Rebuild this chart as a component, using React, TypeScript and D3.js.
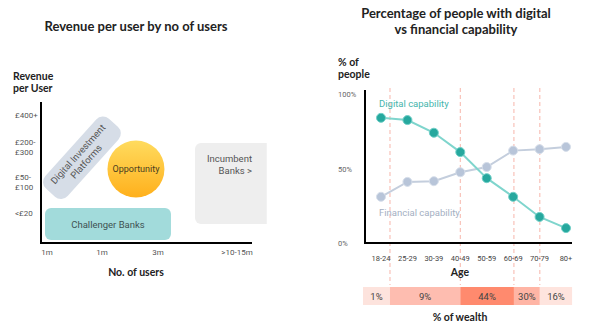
import React from "react";
import * as d3 from "d3";

// ---------- Left chart data (conceptual positions: users level 0-100, revenue level 0-100)
const userTickLabels = ["1m", "1m", "3m", ">10-15m"];
const userTickValues = [2.8, 28.9, 55.5, 92.9];
const revenueTickLabels = [["£400+"], ["£200-", "£300"], ["£50-", "£100"], ["<£20"]];
const revenueTickValues = [91, 68, 43, 21.3];

const challenger = { label: "Challenger Banks", x0: 1.9, x1: 61.6, y0: 2.1, y1: 24.8 };
const incumbent = { label: ["Incumbent", "Banks >"], x0: 73, x1: 112, y0: 13.5, y1: 70.9 };
const opportunity = { label: "Opportunity", x: 45, y: 52.5 };
const digitalPlatforms = { label: ["Digital Investment", "Platforms"], x: 19.4, y: 60.5 };

// ---------- Right chart data
const ages = ["18-24", "25-29", "30-39", "40-49", "50-59", "60-69", "70-79", "80+"];
const digital = [84, 82.5, 74, 61, 43.5, 31, 17.5, 10];
const financial = [31, 41, 41.5, 47.5, 51, 62, 63, 64.5];
const pctTicks = [0, 50, 100];
const wealthLabels = ["1%", "9%", "44%", "30%", "16%"];
const wealthBounds = [-0.68, 0.34, 3, 5.03, 6.01, 7.23]; // in age-index units
const wealthColors = ["#FDE3DD", "#FEBDB0", "#FF8A6E", "#FFB5A5", "#FEE4DE"];

const TITLE_FONT = "Lato, 'Open Sans', sans-serif";
const BODY_FONT = "Roboto, 'Noto Sans', sans-serif";

export default function App() {
  // Left scales
  const lx = d3.scaleLinear().domain([0, 100]).range([41, 252]);
  const ly = d3.scaleLinear().domain([0, 100]).range([243, 102]);

  // Right scales
  const rx = d3.scalePoint<string>().domain(ages).range([381, 566]);
  const rIdx = d3.scaleLinear().domain([0, ages.length - 1]).range([381, 566]);
  const ry = d3.scaleLinear().domain([0, 100]).range([243, 94]);

  const line = d3
    .line<number>()
    .x((_, i) => rx(ages[i]) as number)
    .y((d) => ry(d));

  const dipW = 94;
  const dipH = 30;
  const dipAngle = -48;

  return (
    <svg
      width={600}
      height={330}
      style={{ position: "absolute", left: 0, top: 0, background: "#fff" }}
    >
      <defs>
        <linearGradient id="oppGrad" x1="0" y1="0" x2="0" y2="1">
          <stop offset="0%" stopColor="#FFDB5E" />
          <stop offset="100%" stopColor="#FFB01C" />
        </linearGradient>
        <clipPath id="leftClip">
          <rect x={0} y={0} width={lx(107)} height={330} />
        </clipPath>
      </defs>

      {/* ================= LEFT CHART ================= */}
      <text
        x={136}
        y={31}
        textAnchor="middle"
        fontFamily={TITLE_FONT}
        fontWeight={700}
        fontSize={13}
        fill="#222"
      >
        Revenue per user by no of users
      </text>
      <text x={13} y={80} fontFamily={TITLE_FONT} fontWeight={700} fontSize={10.5} fill="#222">
        Revenue
      </text>
      <text x={13} y={92} fontFamily={TITLE_FONT} fontWeight={700} fontSize={10.5} fill="#222">
        per User
      </text>

      {/* y tick labels */}
      {revenueTickLabels.map((lines, i) => {
        const cy = ly(revenueTickValues[i]);
        const off = ((lines.length - 1) * 10) / 2;
        return (
          <text key={i} fontFamily={BODY_FONT} fontSize={8} fill="#555">
            {lines.map((l, j) => (
              <tspan key={j} x={15} y={cy - off + j * 10 + 3}>
                {l}
              </tspan>
            ))}
          </text>
        );
      })}

      {/* Incumbent banks */}
      <g clipPath="url(#leftClip)">
        <rect
          x={lx(incumbent.x0)}
          y={ly(incumbent.y1)}
          width={lx(incumbent.x1) - lx(incumbent.x0)}
          height={ly(incumbent.y0) - ly(incumbent.y1)}
          rx={6}
          fill="#EEEEEE"
        />
      </g>
      {incumbent.label.map((l, j) => (
        <text
          key={j}
          x={252}
          y={ly(incumbent.y1) + 19 + j * 12}
          textAnchor="end"
          fontFamily={BODY_FONT}
          fontSize={9.5}
          fill="#555"
        >
          {l}
        </text>
      ))}

      {/* Challenger Banks */}
      <rect
        x={lx(challenger.x0)}
        y={ly(challenger.y1)}
        width={lx(challenger.x1) - lx(challenger.x0)}
        height={ly(challenger.y0) - ly(challenger.y1)}
        rx={6}
        fill="#A2DBDB"
      />
      <text
        x={(lx(challenger.x0) + lx(challenger.x1)) / 2}
        y={(ly(challenger.y0) + ly(challenger.y1)) / 2 + 3.5}
        textAnchor="middle"
        fontFamily={BODY_FONT}
        fontSize={9.5}
        fill="#3E5252"
      >
        {challenger.label}
      </text>

      {/* Digital investment platforms */}
      <g transform={`translate(${lx(digitalPlatforms.x)},${ly(digitalPlatforms.y)}) rotate(${dipAngle})`}>
        <rect x={-dipW / 2} y={-dipH / 2} width={dipW} height={dipH} rx={9} fill="#D6DDE7" />
        {digitalPlatforms.label.map((l, j) => (
          <text
            key={j}
            x={0}
            y={-2 + j * 11}
            textAnchor="middle"
            fontFamily={BODY_FONT}
            fontSize={9.5}
            fill="#555"
          >
            {l}
          </text>
        ))}
      </g>

      {/* Opportunity */}
      <circle cx={lx(opportunity.x)} cy={ly(opportunity.y)} r={28.5} fill="url(#oppGrad)" />
      <text
        x={lx(opportunity.x)}
        y={ly(opportunity.y) + 3}
        textAnchor="middle"
        fontFamily={BODY_FONT}
        fontSize={9}
        fill="#4A4020"
      >
        {opportunity.label}
      </text>

      {/* axes */}
      <line x1={41} x2={41} y1={102} y2={244} stroke="#000" strokeWidth={2} />
      <line x1={40} x2={252} y1={243} y2={243} stroke="#000" strokeWidth={2} />

      {userTickLabels.map((l, i) => (
        <text
          key={i}
          x={lx(userTickValues[i])}
          y={255}
          textAnchor="middle"
          fontFamily={BODY_FONT}
          fontSize={8}
          fill="#555"
        >
          {l}
        </text>
      ))}
      <text
        x={136}
        y={276}
        textAnchor="middle"
        fontFamily={TITLE_FONT}
        fontWeight={700}
        fontSize={10.5}
        fill="#222"
      >
        No. of users
      </text>

      {/* ================= RIGHT CHART ================= */}
      <text x={456} y={18} textAnchor="middle" fontFamily={TITLE_FONT} fontWeight={700} fontSize={13} fill="#222">
        Percentage of people with digital
      </text>
      <text x={456} y={34} textAnchor="middle" fontFamily={TITLE_FONT} fontWeight={700} fontSize={13} fill="#222">
        vs financial capability
      </text>
      <text x={338} y={66} fontFamily={TITLE_FONT} fontWeight={700} fontSize={10.5} fill="#222">
        % of
      </text>
      <text x={338} y={78} fontFamily={TITLE_FONT} fontWeight={700} fontSize={10.5} fill="#222">
        people
      </text>

      {pctTicks.map((t) => (
        <text key={t} x={338} y={ry(t) + 3} fontFamily={BODY_FONT} fontSize={7.5} fill="#666">
          {t}%
        </text>
      ))}

      {/* dashed boundaries */}
      {wealthBounds.slice(1, -1).map((b, i) => (
        <line
          key={i}
          x1={rIdx(b)}
          x2={rIdx(b)}
          y1={88}
          y2={285}
          stroke="#F7B5AA"
          strokeWidth={1}
          strokeDasharray="4,3"
        />
      ))}

      {/* lines */}
      <path d={line(financial) || ""} fill="none" stroke="#C4CEDD" strokeWidth={2} />
      {financial.map((v, i) => (
        <circle key={i} cx={rx(ages[i])} cy={ry(v)} r={4.5} fill="#B8C5D9" stroke="#D6DEEA" strokeWidth={1} />
      ))}
      <path d={line(digital) || ""} fill="none" stroke="#7FD5CD" strokeWidth={2} />
      {digital.map((v, i) => (
        <circle key={i} cx={rx(ages[i])} cy={ry(v)} r={4.5} fill="#26A89E" stroke="#6FCFC7" strokeWidth={1} />
      ))}

      <text x={379} y={107} fontFamily={BODY_FONT} fontSize={9.5} fill="#45B5AC">
        Digital capability
      </text>
      <text x={379} y={216} fontFamily={BODY_FONT} fontSize={9.5} fill="#A4AFC2">
        Financial capability
      </text>

      {/* axes */}
      <line x1={365} x2={365} y1={90} y2={244} stroke="#000" strokeWidth={2} />
      <line x1={364} x2={572} y1={243} y2={243} stroke="#000" strokeWidth={2} />

      {ages.map((a) => (
        <text
          key={a}
          x={rx(a)}
          y={261}
          textAnchor="middle"
          fontFamily={BODY_FONT}
          fontSize={7.5}
          fill="#444"
        >
          {a}
        </text>
      ))}
      <text x={460} y={276} textAnchor="middle" fontFamily={TITLE_FONT} fontWeight={700} fontSize={10.5} fill="#222">
        Age
      </text>

      {/* wealth bar */}
      {wealthLabels.map((l, i) => {
        const x0 = rIdx(wealthBounds[i]);
        const x1 = rIdx(wealthBounds[i + 1]);
        return (
          <g key={l}>
            <rect x={x0} y={287} width={x1 - x0} height={18} fill={wealthColors[i]} />
            <text
              x={(x0 + x1) / 2}
              y={299.5}
              textAnchor="middle"
              fontFamily={BODY_FONT}
              fontSize={9.5}
              fill="#444"
            >
              {l}
            </text>
          </g>
        );
      })}
      <text x={460} y={321} textAnchor="middle" fontFamily={TITLE_FONT} fontWeight={700} fontSize={10.5} fill="#222">
        % of wealth
      </text>
    </svg>
  );
}
